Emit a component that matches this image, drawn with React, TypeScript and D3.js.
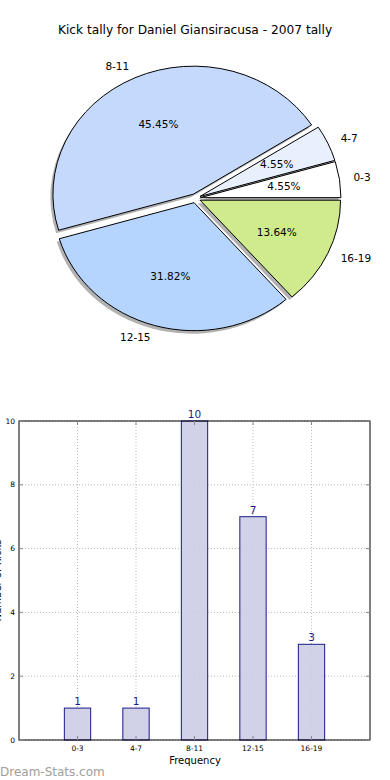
import React from "react";
import * as d3 from "d3";

// DATA
const categories = ["0-3", "4-7", "8-11", "12-15", "16-19"];
const tallies = [1, 1, 10, 7, 3];
const sliceColors = ["#ffffff", "#e8f0fe", "#c5d9fd", "#b5d5fe", "#d0ea8e"];
const yTicks = [0, 2, 4, 6, 8, 10];

const W = 390;
const H = 780;
const FONT = "DejaVu Sans, sans-serif";

// PIE GEOMETRY
const cx = 195.5;
const cy = 198.3;
const rx = 140.5;
const ky = 128 / 140.5; // pie is squashed vertically
const explode = 5;

// BAR GEOMETRY
const plot = { left: 19, right: 370, top: 421, bottom: 740 };

export default function App() {
  const total = d3.sum(tallies);
  const pie = d3
    .pie<number>()
    .sort(null)
    .startAngle(Math.PI / 2)
    .endAngle(Math.PI / 2 - 2 * Math.PI);
  const slices = pie(tallies);
  const arc = d3.arc<d3.PieArcDatum<number>>().innerRadius(0).outerRadius(rx);

  const mid = (d: d3.PieArcDatum<number>) => (d.startAngle + d.endAngle) / 2;
  const at = (d: d3.PieArcDatum<number>, dist: number) => {
    const a = mid(d);
    return [cx + dist * Math.sin(a), cy - dist * Math.cos(a) * ky];
  };

  const xScale = d3.scaleLinear().domain([0, 6]).range([plot.left, plot.right]);
  const yScale = d3.scaleLinear().domain([0, 10]).range([plot.bottom, plot.top]);
  const barW = xScale(0.45) - xScale(0);

  return (
    <div style={{ position: "absolute", left: 0, top: 0 }}>
      <svg width={W} height={H} style={{ display: "block" }} fontFamily={FONT}>
        <rect width={W} height={H} fill="#fff" />

        {/* TITLE */}
        <text x={195} y={34} textAnchor="middle" fontSize={12.2} fill="#000">
          Kick tally for Daniel Giansiracusa - 2007 tally
        </text>

        {/* PIE: shadows first, then wedges */}
        <g transform={`translate(${cx},${cy}) scale(1,${ky})`}>
          {slices.map((d, i) => {
            const a = mid(d);
            return (
              <path
                key={"s" + i}
                d={arc(d) || ""}
                transform={`translate(${explode * Math.sin(a) - 2.5},${-explode * Math.cos(a) + 3 / ky})`}
                fill="#000"
                fillOpacity={0.3}
              />
            );
          })}
          {slices.map((d, i) => {
            const a = mid(d);
            return (
              <path
                key={"p" + i}
                d={arc(d) || ""}
                transform={`translate(${explode * Math.sin(a)},${-explode * Math.cos(a)})`}
                fill={sliceColors[i]}
                stroke="#000"
                strokeWidth={1}
                vectorEffect="non-scaling-stroke"
              />
            );
          })}
        </g>
        {slices.map((d, i) => {
          const [lx, ly] = at(d, explode + 1.1 * rx);
          const [px, py] = at(d, explode + 0.6 * rx);
          return (
            <g key={"l" + i} fontSize={10.5} fill="#000">
              <text x={lx} y={ly} dy="0.35em" textAnchor={lx > cx ? "start" : "end"}>
                {categories[i]}
              </text>
              <text x={px} y={py} dy="0.35em" textAnchor="middle">
                {((tallies[i] / total) * 100).toFixed(2)}%
              </text>
            </g>
          );
        })}

        {/* BAR CHART GRID */}
        <g stroke="#bbb" strokeWidth={1} strokeDasharray="1,2">
          {yTicks.map((t) => (
            <line key={"gy" + t} x1={plot.left} x2={plot.right} y1={yScale(t)} y2={yScale(t)} />
          ))}
          {categories.map((c, i) => (
            <line key={"gx" + c} x1={xScale(i + 1)} x2={xScale(i + 1)} y1={plot.top} y2={plot.bottom} />
          ))}
        </g>

        {/* BARS */}
        {tallies.map((v, i) => (
          <g key={"b" + i}>
            <rect
              x={xScale(i + 1) - barW / 2}
              y={yScale(v)}
              width={barW}
              height={yScale(0) - yScale(v)}
              fill="#ccccE6"
              fillOpacity={0.9}
              stroke="#1a1a8c"
              strokeWidth={1}
            />
            <text x={xScale(i + 1)} y={yScale(v) - 3} textAnchor="middle" fontSize={10.5} fill="#1a1a8c">
              {v}
            </text>
          </g>
        ))}

        {/* AXES FRAME + TICKS */}
        <rect
          x={plot.left}
          y={plot.top}
          width={plot.right - plot.left}
          height={plot.bottom - plot.top}
          fill="none"
          stroke="#000"
          strokeWidth={1}
        />
        <g stroke="#888" strokeWidth={1}>
          {yTicks.map((t) => (
            <g key={"ty" + t}>
              <line x1={plot.left} x2={plot.left + 4} y1={yScale(t)} y2={yScale(t)} />
              <line x1={plot.right - 4} x2={plot.right} y1={yScale(t)} y2={yScale(t)} />
            </g>
          ))}
          {categories.map((c, i) => (
            <g key={"tx" + c}>
              <line x1={xScale(i + 1)} x2={xScale(i + 1)} y1={plot.bottom} y2={plot.bottom - 4} />
              <line x1={xScale(i + 1)} x2={xScale(i + 1)} y1={plot.top} y2={plot.top + 4} />
            </g>
          ))}
        </g>
        {yTicks.map((t) => (
          <text key={"yl" + t} x={plot.left - 4} y={yScale(t)} dy="0.35em" textAnchor="end" fontSize={7.5} fill="#000">
            {t}
          </text>
        ))}
        {categories.map((c, i) => (
          <text key={"xl" + c} x={xScale(i + 1)} y={plot.bottom + 11} textAnchor="middle" fontSize={7.5} fill="#000">
            {c}
          </text>
        ))}
        <text x={195} y={764} textAnchor="middle" fontSize={10} fill="#000">
          Frequency
        </text>
        {/* y label sits at the page edge and is clipped, as in the original */}
        <text transform={`translate(1,${(plot.top + plot.bottom) / 2}) rotate(-90)`} textAnchor="middle" fontSize={10} fill="#000">
          Number of Kicks
        </text>

        {/* WATERMARK */}
        <text x={0} y={776} fontSize={12} fill="#a0a0a0">
          Dream-Stats.com
        </text>
      </svg>
    </div>
  );
}
